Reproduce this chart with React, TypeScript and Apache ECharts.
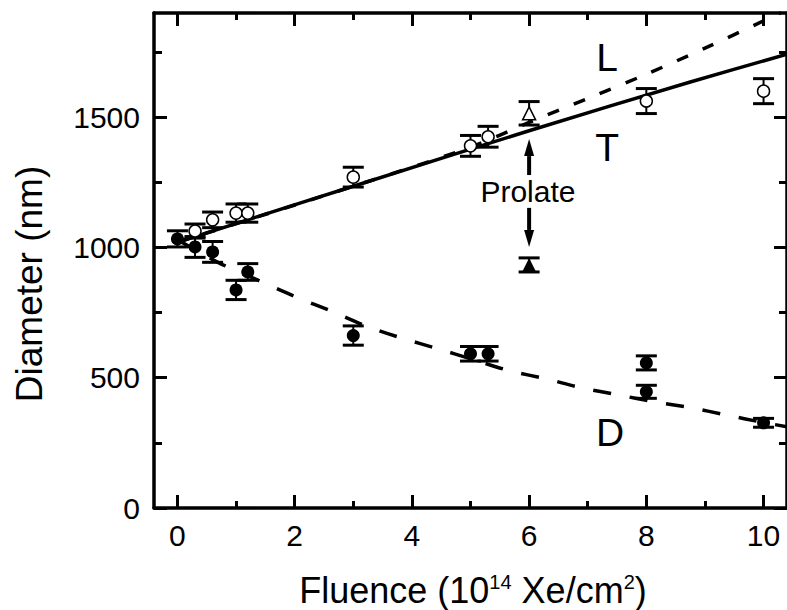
import React, { useEffect, useRef } from "react";
import * as echarts from "echarts";

// ---- axis ticks ----
const xMajorTicks = [0, 2, 4, 6, 8, 10];
const xMinorTicks = [1, 3, 5, 7, 9];
const yMajorTicks = [0, 500, 1000, 1500];
const yMinorTicks = [250, 750, 1250, 1750];

// ---- measurements (x = fluence, y = diameter, err = half error bar) ----
const openCircleX = [0.3, 0.6, 1.0, 1.2, 3.0, 5.0, 5.3, 8.0, 10.0];
const openCircleY = [1063, 1106, 1132, 1132, 1270, 1390, 1425, 1562, 1600];
const openCircleErr = [27, 30, 35, 35, 38, 40, 40, 48, 48];

const filledCircleX = [0.0, 0.3, 0.6, 1.0, 1.2, 3.0, 5.0, 5.3, 8.0, 8.0, 10.0];
const filledCircleY = [1033, 1002, 983, 837, 906, 662, 592, 592, 557, 446, 327];
const filledCircleErr = [31, 40, 40, 37, 32, 37, 28, 28, 27, 25, 17];

const openTriangleX = [6.0];
const openTriangleY = [1515];
const openTriangleErr = [45];

const filledTriangleX = [6.0];
const filledTriangleY = [933];
const filledTriangleErr = [27];

// ---- fitted curves ----
const fitTX = [0, 1.5, 3, 6, 8.75, 10.4];
const fitTY = [1020, 1128, 1235, 1448, 1635, 1742];
const fitLX = [0, 3, 5.0, 6.0, 7.0, 8.0, 9.0, 10.0, 10.3];
const fitLY = [1020, 1235, 1385, 1480, 1572, 1665, 1765, 1870, 1902];
const fitDX = [0, 0.7, 1.35, 2.0, 2.6, 3.2, 3.8, 4.43, 5.0, 5.66, 6.29, 6.88, 7.5, 8.13, 8.76, 9.34, 10.0, 10.4];
const fitDY = [1030, 942, 877, 812, 758, 700, 654, 612, 573, 527, 496, 462, 435, 408, 385, 358, 328, 312];

// ---- annotations ----
const curveLabels = ["L", "T", "D"];
const curveLabelX = [7.33, 7.33, 7.38];
const curveLabelY = [1731, 1382, 288];
const prolateLabel = "Prolate";
const prolateX = 5.98;
const prolateY = 1213;
// arrows: [x, from, to]
const arrowX = [6, 6];
const arrowFrom = [1278, 1152];
const arrowTo = [1416, 1002];

const FONT = "'Liberation Sans', Arial, Helvetica, sans-serif";

const zip = (xs: number[], ys: number[]) => xs.map((x, i) => [x, ys[i]]);
const zip3 = (xs: number[], ys: number[], es: number[]) => xs.map((x, i) => [x, ys[i], es[i]]);

function errorBarSeries(data: number[][]) {
  return {
    type: "custom",
    xAxisIndex: 0,
    yAxisIndex: 0,
    z: 3,
    silent: true,
    data,
    renderItem: (_p: any, api: any) => {
      const x = api.value(0);
      const y = api.value(1);
      const e = api.value(2);
      const top = api.coord([x, y + e]);
      const bot = api.coord([x, y - e]);
      const hw = 10.5;
      return {
        type: "group",
        children: [
          { type: "line", shape: { x1: top[0], y1: top[1], x2: bot[0], y2: bot[1] }, style: { stroke: "#000", lineWidth: 2 } },
          { type: "line", shape: { x1: top[0] - hw, y1: top[1], x2: top[0] + hw, y2: top[1] }, style: { stroke: "#000", lineWidth: 3 } },
          { type: "line", shape: { x1: bot[0] - hw, y1: bot[1], x2: bot[0] + hw, y2: bot[1] }, style: { stroke: "#000", lineWidth: 3 } },
        ],
      };
    },
  };
}

export default function App() {
  const ref = useRef<HTMLDivElement>(null);
  useEffect(() => {
    if (!ref.current) return;
    const chart = echarts.init(ref.current, null, { renderer: "svg" });

    const tickStyle = { color: "#000", width: 3 };
    const baseX = {
      type: "value",
      min: -0.4,
      max: 10.4,
      splitLine: { show: false },
      axisLine: { show: false, onZero: false },
    };
    const baseY = {
      type: "value",
      min: 0,
      max: 1900,
      splitLine: { show: false },
      axisLine: { show: false, onZero: false },
    };

    const option: any = {
      animation: false,
      grid: { left: 154, right: 0, top: 13, bottom: 102, show: false },
      xAxis: [
        {
          ...baseX,
          position: "bottom",
          axisLine: { show: true, onZero: false, lineStyle: { color: "#000", width: 3.5 } },
          axisTick: { show: true, inside: true, length: 13, lineStyle: tickStyle, customValues: xMajorTicks },
          axisLabel: {
            show: true,
            customValues: xMajorTicks,
            formatter: (v: number) => String(v),
            fontSize: 30,
            color: "#000",
            fontFamily: FONT,
            margin: 12,
          },
        },
        {
          ...baseX,
          position: "bottom",
          axisTick: { show: true, inside: true, length: 7, lineStyle: tickStyle, customValues: xMinorTicks },
          axisLabel: { show: false },
        },
        {
          ...baseX,
          position: "top",
          axisLine: { show: true, onZero: false, lineStyle: { color: "#000", width: 3.5 } },
          axisTick: { show: true, inside: true, length: 13, lineStyle: tickStyle, customValues: xMajorTicks },
          axisLabel: { show: false },
        },
        {
          ...baseX,
          position: "top",
          axisTick: { show: true, inside: true, length: 7, lineStyle: tickStyle, customValues: xMinorTicks },
          axisLabel: { show: false },
        },
      ],
      yAxis: [
        {
          ...baseY,
          position: "left",
          axisLine: { show: true, onZero: false, lineStyle: { color: "#000", width: 3.5 } },
          axisTick: { show: true, inside: true, length: 13, lineStyle: tickStyle, customValues: yMajorTicks },
          axisLabel: {
            show: true,
            customValues: yMajorTicks,
            formatter: (v: number) => String(v),
            fontSize: 30,
            color: "#000",
            fontFamily: FONT,
            margin: 14,
          },
        },
        {
          ...baseY,
          position: "left",
          axisTick: { show: true, inside: true, length: 8, lineStyle: tickStyle, customValues: yMinorTicks },
          axisLabel: { show: false },
        },
        {
          ...baseY,
          position: "right",
          axisLine: { show: true, onZero: false, lineStyle: { color: "#000", width: 3.5 } },
          axisTick: { show: true, inside: true, length: 13, lineStyle: tickStyle, customValues: yMajorTicks },
          axisLabel: { show: false },
        },
        {
          ...baseY,
          position: "right",
          axisTick: { show: true, inside: true, length: 8, lineStyle: tickStyle, customValues: yMinorTicks },
          axisLabel: { show: false },
        },
      ],
      series: [
        {
          type: "line",
          name: "T",
          data: zip(fitTX, fitTY),
          showSymbol: false,
          symbol: "none",
          smooth: 0.3,
          clip: true,
          z: 2,
          lineStyle: { color: "#000", width: 3.5, type: "solid" },
        },
        {
          type: "line",
          name: "L",
          data: zip(fitLX, fitLY),
          showSymbol: false,
          symbol: "none",
          smooth: 0.3,
          clip: true,
          z: 2,
          lineStyle: { color: "#000", width: 3.5, type: [12, 16] },
        },
        {
          type: "line",
          name: "D",
          data: zip(fitDX, fitDY),
          showSymbol: false,
          symbol: "none",
          smooth: 0.3,
          clip: true,
          z: 2,
          lineStyle: { color: "#000", width: 3.5, type: [18, 19] },
        },
        errorBarSeries(zip3(openCircleX, openCircleY, openCircleErr)),
        errorBarSeries(zip3(filledCircleX, filledCircleY, filledCircleErr)),
        errorBarSeries(zip3(openTriangleX, openTriangleY, openTriangleErr)),
        errorBarSeries(zip3(filledTriangleX, filledTriangleY, filledTriangleErr)),
        {
          type: "scatter",
          data: zip(openCircleX, openCircleY),
          symbol: "circle",
          symbolSize: 12,
          z: 4,
          itemStyle: { color: "#fff", borderColor: "#000", borderWidth: 1.5, opacity: 1 },
        },
        {
          type: "scatter",
          data: zip(filledCircleX, filledCircleY),
          symbol: "circle",
          symbolSize: 13,
          z: 4,
          itemStyle: { color: "#000", opacity: 1 },
        },
        {
          type: "scatter",
          data: zip(openTriangleX, openTriangleY),
          symbol: "triangle",
          symbolSize: 13,
          z: 4,
          itemStyle: { color: "#fff", borderColor: "#000", borderWidth: 1.5, opacity: 1 },
        },
        {
          type: "scatter",
          data: zip(filledTriangleX, filledTriangleY),
          symbol: "triangle",
          symbolSize: 14,
          z: 4,
          itemStyle: { color: "#000", opacity: 1 },
        },
        {
          type: "custom",
          z: 3,
          silent: true,
          data: arrowX.map((x, i) => [x, arrowFrom[i], arrowTo[i]]),
          renderItem: (_p: any, api: any) => {
            const p0 = api.coord([api.value(0), api.value(1)]);
            const p1 = api.coord([api.value(0), api.value(2)]);
            const dir = p1[1] > p0[1] ? 1 : -1;
            const headLen = 17;
            const headHalf = 5;
            return {
              type: "group",
              children: [
                {
                  type: "line",
                  shape: { x1: p0[0], y1: p0[1], x2: p1[0], y2: p1[1] - dir * headLen },
                  style: { stroke: "#000", lineWidth: 4 },
                },
                {
                  type: "polygon",
                  shape: {
                    points: [
                      [p1[0], p1[1]],
                      [p1[0] - headHalf, p1[1] - dir * headLen],
                      [p1[0] + headHalf, p1[1] - dir * headLen],
                    ],
                  },
                  style: { fill: "#000" },
                },
              ],
            };
          },
        },
        {
          type: "scatter",
          silent: true,
          symbol: "circle",
          symbolSize: 1,
          z: 5,
          itemStyle: { color: "#fff", opacity: 1 },
          label: {
            show: true,
            position: "inside",
            formatter: (p: any) => p.name,
            color: "#000",
            opacity: 1,
            textBorderWidth: 0,
            fontFamily: FONT,
            fontSize: 39,
          },
          data: [
            ...curveLabels.map((n, i) => ({ name: n, value: [curveLabelX[i], curveLabelY[i]] })),
            { name: prolateLabel, value: [prolateX, prolateY], label: { fontSize: 30 } },
          ],
        },
      ],
      graphic: [
        {
          type: "text",
          x: 29,
          y: 284,
          rotation: Math.PI / 2,
          style: {
            text: "Diameter (nm)",
            fontFamily: FONT,
            fontSize: 37,
            fill: "#000",
            textAlign: "center",
            textVerticalAlign: "middle",
          },
        },
        {
          type: "text",
          x: 473,
          y: 590,
          style: {
            text: "{a|Fluence (10}{s|14}{a| Xe/cm}{s|2}{a|)}",
            textAlign: "center",
            textVerticalAlign: "middle",
            fill: "#000",
            rich: {
              a: { fontFamily: FONT, fontSize: 36, fill: "#000", lineHeight: 40 },
              s: { fontFamily: FONT, fontSize: 20, fill: "#000", verticalAlign: "top", lineHeight: 40, padding: [2, 0, 0, 0] },
            },
          },
        },
      ],
    };

    chart.setOption(option);
    return () => chart.dispose();
  }, []);

  return (
    <div
      ref={ref}
      style={{ position: "absolute", left: 0, top: 0, width: 787, height: 610, background: "#fff" }}
    />
  );
}
